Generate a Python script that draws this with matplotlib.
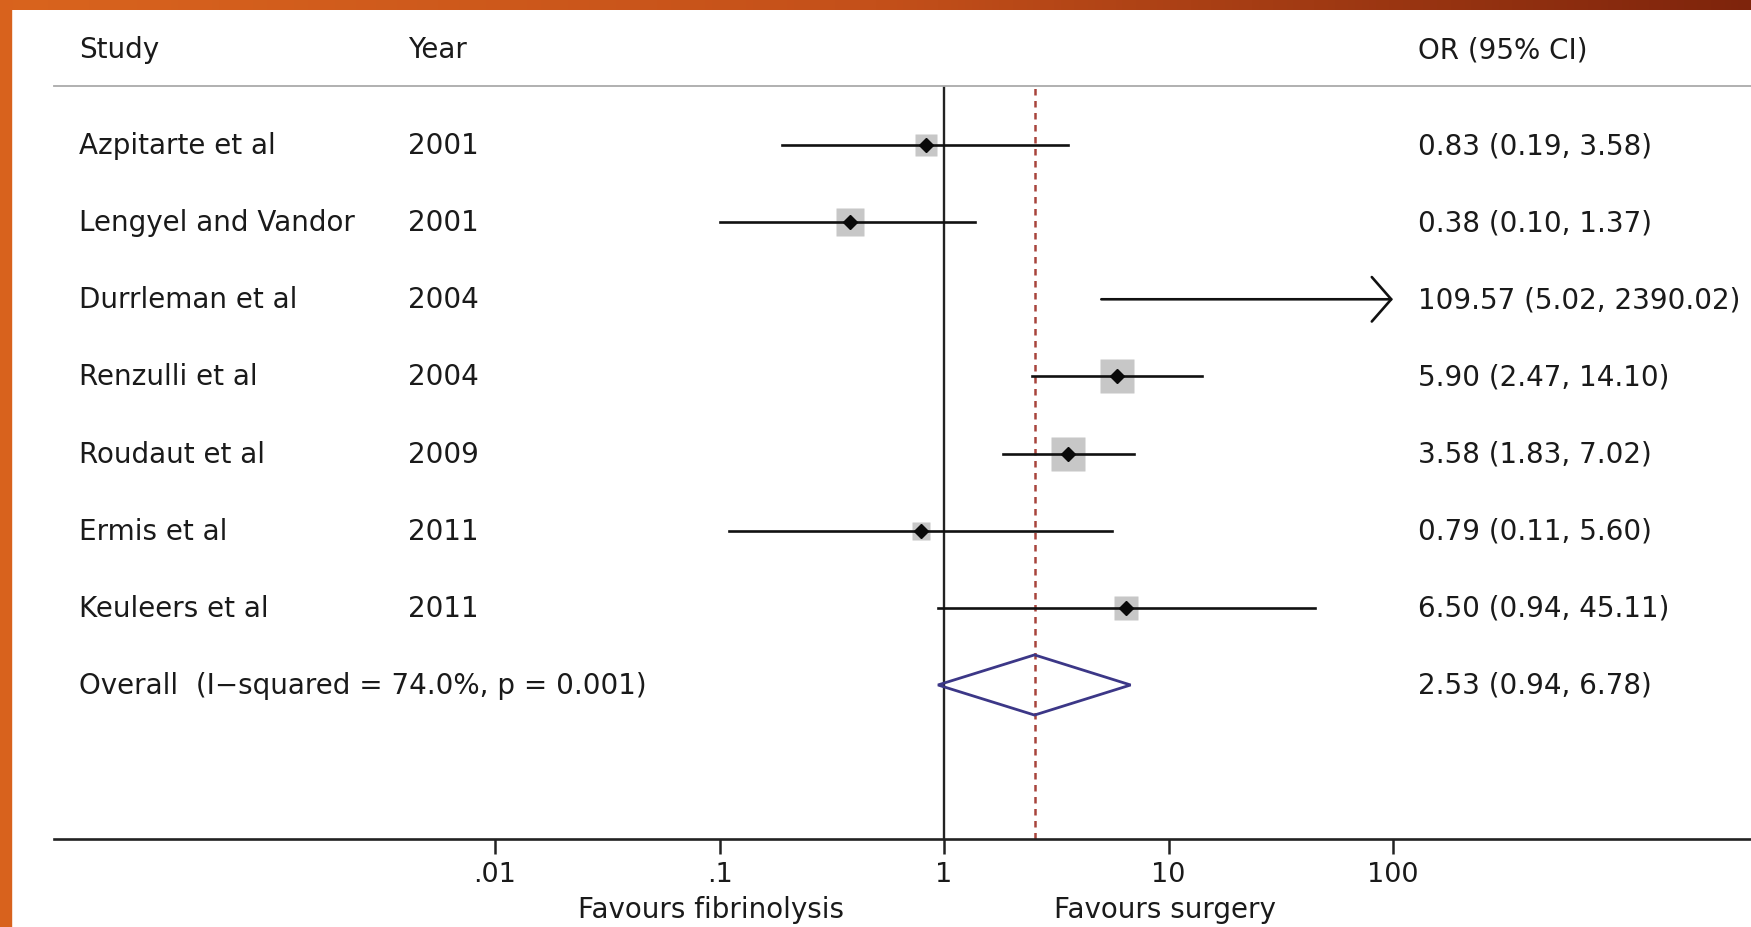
import numpy as np
import matplotlib
matplotlib.use('Agg')
import matplotlib.pyplot as plt
from matplotlib.patches import Polygon, Rectangle
from matplotlib.ticker import FixedLocator, FixedFormatter, NullLocator

plt.rcParams['font.family'] = ['DejaVu Sans']

# 데이터
studies = ['Azpitarte et al', 'Lengyel and Vandor', 'Durrleman et al', 'Renzulli et al',
           'Roudaut et al', 'Ermis et al', 'Keuleers et al']
years = ['2001', '2001', '2004', '2004', '2009', '2011', '2011']
or_est = [0.83, 0.38, 109.57, 5.90, 3.58, 0.79, 6.50]
ci_low = [0.19, 0.10, 5.02, 2.47, 1.83, 0.11, 0.94]
ci_high = [3.58, 1.37, 2390.02, 14.10, 7.02, 5.60, 45.11]
weight_box = [16, 20, 0, 24, 25, 13, 17]  # 회색 박스 크기 (pt)

overall_label = 'Overall  (I\u2212squared = 74.0%, p = 0.001)'
overall = [2.53, 0.94, 6.78]

tick_vals = [0.01, 0.1, 1, 10, 100]
tick_labels = ['.01', '.1', '1', '10', '100']
x_clip = 100

W, H = 1751, 928
fig = plt.figure(figsize=(W / 100, H / 100), dpi=100)
fig.patch.set_facecolor('white')

# 주황색 테두리
top = fig.add_axes([0, 1 - 11 / H, 1, 11 / H])
grad = np.linspace(0, 1, 256).reshape(1, -1)
cmap = matplotlib.colors.LinearSegmentedColormap.from_list('band', ['#d9641e', '#c4501a', '#7e240c'])
top.imshow(grad, aspect='auto', cmap=cmap)
top.axis('off')
fig.patches.append(Rectangle((0, 0), 11 / W, 1, transform=fig.transFigure, color='#d8621d', zorder=5))

# 본 그래프 영역 (픽셀 -> 축 좌표)
px_left, px_right = 54, W
px_top, px_bottom = 87, 840
x_one, decade = 944, 224.5
row0, row_step = 146, 77.14

ax = fig.add_axes([px_left / W, 1 - px_bottom / H, (px_right - px_left) / W, (px_bottom - px_top) / H])
ax.set_xscale('log')
ax.set_xlim(10 ** ((px_left - x_one) / decade), 10 ** ((px_right - x_one) / decade))
ax.set_ylim((px_bottom - row0) / row_step, (px_top - row0) / row_step)

for s in ['top', 'right', 'left']:
    ax.spines[s].set_visible(False)
ax.spines['bottom'].set_linewidth(1.9)
ax.spines['bottom'].set_color('#222222')
ax.set_yticks([])
ax.xaxis.set_major_locator(FixedLocator(tick_vals))
ax.xaxis.set_major_formatter(FixedFormatter(tick_labels))
ax.xaxis.set_minor_locator(NullLocator())
ax.tick_params(axis='x', direction='out', length=11, width=1.8, color='#222222',
               labelsize=19.5, labelcolor='#1a1a1a', pad=5)

# 기준선
ax.axvline(1, color='#222222', lw=1.7, zorder=2)
ax.axvline(overall[0], color='#a8443c', lw=1.8, ls=(0, (2.6, 2.2)), zorder=2)

# 개별 연구
for i in range(len(studies)):
    hi = min(ci_high[i], x_clip)
    if ci_high[i] > x_clip:
        ax.annotate('', xy=(x_clip, i), xytext=(ci_low[i], i),
                    arrowprops=dict(arrowstyle='->,head_length=0.7,head_width=0.8',
                                    lw=1.9, color='#111111', shrinkA=0, shrinkB=0,
                                    mutation_scale=20))
    else:
        ax.plot([ci_low[i], hi], [i, i], color='#111111', lw=1.9, zorder=3)
    if or_est[i] <= x_clip:
        if weight_box[i] > 0:
            ax.plot(or_est[i], i, marker='s', ms=weight_box[i], color='#bdbdbd',
                    mec='none', alpha=0.85, zorder=2.5)
        ax.plot(or_est[i], i, marker='D', ms=7, color='#0a0a0a', zorder=4)

# 전체 효과 다이아몬드
yo = len(studies)
dia = Polygon([(overall[1], yo), (overall[0], yo - 0.39), (overall[2], yo), (overall[0], yo + 0.39)],
              closed=True, fill=False, edgecolor='#3c3787', lw=2.0, zorder=4)
ax.add_patch(dia)

# 텍스트
fs = 20
txt_col = '#1a1a1a'


def ftext(px, py, s, **kw):
    fig.text(px / W, 1 - py / H, s, fontsize=fs, color=txt_col, va='center', **kw)


ftext(79, 50, 'Study')
ftext(408, 50, 'Year')
ftext(1418, 50, 'OR (95% CI)')
fig.add_artist(plt.Line2D([px_left / W, 1], [1 - px_top / H] * 2, color='#aaaaaa', lw=1.3))

for i in range(len(studies)):
    py = row0 + row_step * i
    ftext(79, py, studies[i])
    ftext(408, py, years[i])
    ftext(1418, py, f'{or_est[i]:.2f} ({ci_low[i]:.2f}, {ci_high[i]:.2f})')

py = row0 + row_step * yo
ftext(79, py, overall_label)
ftext(1418, py, f'{overall[0]:.2f} ({overall[1]:.2f}, {overall[2]:.2f})')

ftext(711, 910, 'Favours fibrinolysis', ha='center')
ftext(1165, 910, 'Favours surgery', ha='center')

fig.savefig('out.png', dpi=100, facecolor='white')
